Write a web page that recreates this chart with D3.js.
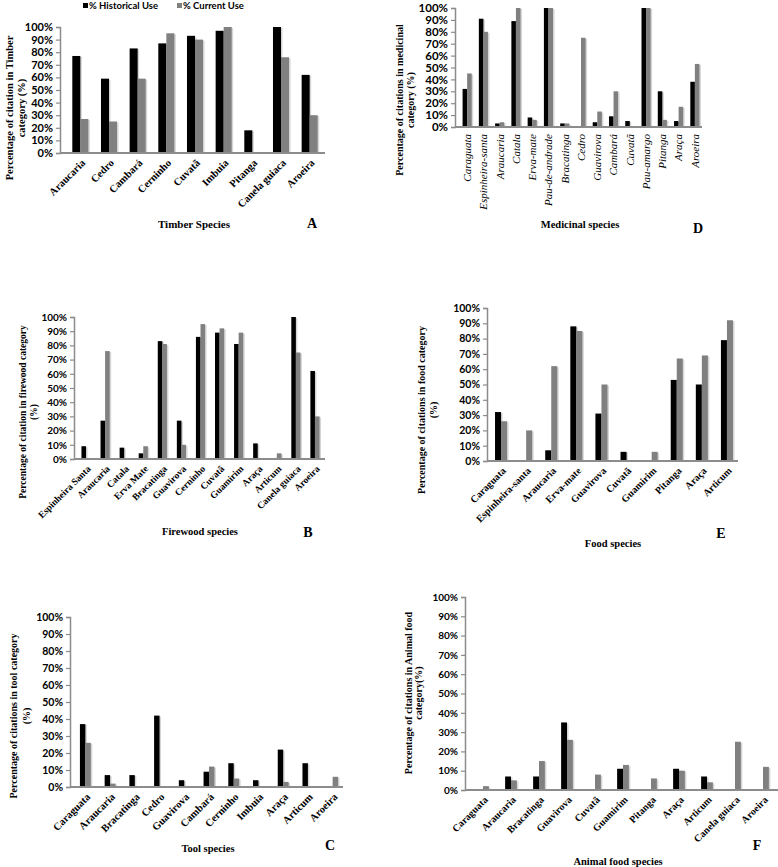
<!DOCTYPE html>
<html>
<head>
<meta charset="utf-8">
<script src="https://cdn.jsdelivr.net/npm/d3@7"></script>
<style>
  body { margin: 0; background: #fff; }
  svg { display: block; }
  .tick text { font-family: Lato, "Open Sans", sans-serif; font-weight: 700; fill: #000; }
  .serif { font-family: "Liberation Serif", "DejaVu Serif", serif; font-weight: 700; fill: #000; }
</style>
</head>
<body>
<div id="chart"></div>
<script>
// series names
var seriesNames = ["% Historical Use", "% Current Use"];

// A - timber
var timberSpecies = ["Araucaria", "Cedro", "Cambará", "Cerninho", "Cuvatã", "Imbuia", "Pitanga", "Canela guiaca", "Aroeira"];
var timberHist = [77, 59, 83, 87, 93, 97, 18, 100, 62];
var timberCurr = [27, 25, 59, 95, 90, 100, 0, 76, 30];

// D - medicinal
var medSpecies = ["Caraguata", "Espinheira-santa", "Araucaria", "Catala", "Erva-mate", "Pau-de-andrade", "Bracatinga", "Cedro",
  "Guavirova", "Cambará", "Cuvatã", "Pau-amargo", "Pitanga", "Araça", "Aroeira"];
var medHist = [32, 91, 3, 89, 8, 100, 3, 0, 4, 9, 5, 100, 30, 5, 38];
var medCurr = [45, 80, 4, 100, 6, 100, 3, 75, 13, 30, 0, 100, 6, 17, 53];

// B - firewood
var fireSpecies = ["Espinheira Santa", "Araucaria", "Catala", "Erva Mate", "Bracatinga", "Guavirova", "Cerninho", "Cuvatã",
  "Guamirim", "Araça", "Articum", "Canela guiaca", "Aroeira"];
var fireHist = [9, 27, 8, 4, 83, 27, 86, 89, 81, 11, 0, 100, 62];
var fireCurr = [0, 76, 0, 9, 81, 10, 95, 92, 89, 0, 4, 75, 30];

// E - food
var foodSpecies = ["Caraguata", "Espinheira-santa", "Araucaria", "Erva-mate", "Guavirova", "Cuvatã", "Guamirim", "Pitanga", "Araça", "Articum"];
var foodHist = [32, 0, 7, 88, 31, 6, 0, 53, 50, 79];
var foodCurr = [26, 20, 62, 85, 50, 0, 6, 67, 69, 92];

// C - tool
var toolSpecies = ["Caraguata", "Araucaria", "Bracatinga", "Cedro", "Guavirova", "Cambará", "Cerninho", "Imbuia", "Araça", "Articum", "Aroeira"];
var toolHist = [37, 7, 7, 42, 4, 9, 14, 4, 22, 14, 0];
var toolCurr = [26, 2, 0, 0, 0, 12, 5, 0, 3, 0, 6];

// F - animal food
var animalSpecies = ["Caraguata", "Araucaria", "Bracatinga", "Guavirova", "Cuvatã", "Guamirim", "Pitanga", "Araça", "Articum", "Canela guiaca", "Aroeira"];
var animalHist = [0, 7, 7, 35, 0, 11, 0, 11, 7, 0, 0];
var animalCurr = [2, 5, 15, 26, 8, 13, 6, 10, 4, 25, 12];

var yTicks = [0, 10, 20, 30, 40, 50, 60, 70, 80, 90, 100];

var colors = ["#000000", "#808080"];

// panel layout
var panels = [
  { letter: "A", cats: timberSpecies, hist: timberHist, curr: timberCurr,
    axisX: 60, xEnd: 325, band: [66, 324], yTop: 27, yBot: 153, barK: 0.28,
    tickFont: 11, catFont: 10.5, catRot: -45, catItalic: false,
    yTitle: ["Percentage of citation in Timber", "category (%)"], yTitleX: 13, yTitleGap: 12, yTitleY: 108, yTitleFont: 10.5,
    xTitle: "Timber Species", xTitleX: 194, xTitleY: 228, xTitleFont: 11, letterX: 312, letterY: 228 },
  { letter: "D", cats: medSpecies, hist: medHist, curr: medCurr,
    axisX: 455, xEnd: 702, band: [459, 703], yTop: 8, yBot: 127, barK: 0.28,
    tickFont: 11.5, catFont: 11, catRot: -90, catItalic: true,
    yTitle: ["Percentage of citations in medicinal", "category (%)"], yTitleX: 403, yTitleGap: 11, yTitleY: 100, yTitleFont: 10,
    xTitle: "Medicinal species", xTitleX: 580, xTitleY: 228, xTitleFont: 10.5, letterX: 698, letterY: 233 },
  { letter: "B", cats: fireSpecies, hist: fireHist, curr: fireCurr,
    axisX: 74, xEnd: 325, band: [76.5, 324.5], yTop: 317, yBot: 459, barK: 0.24,
    tickFont: 10, catFont: 9.5, catRot: -45, catItalic: false,
    yTitle: ["Percentage of citation in firewood category", "(%)"], yTitleX: 26, yTitleGap: 11, yTitleY: 412, yTitleFont: 9.5,
    xTitle: "Firewood species", xTitleX: 200, xTitleY: 535, xTitleFont: 10.5, letterX: 308, letterY: 537 },
  { letter: "E", cats: foodSpecies, hist: foodHist, curr: foodCurr,
    axisX: 487, xEnd: 738, band: [488.5, 739.5], yTop: 308, yBot: 461, barK: 0.24,
    tickFont: 10.5, catFont: 10, catRot: -45, catItalic: false,
    yTitle: ["Percentage of citations in food category", "(%)"], yTitleX: 425, yTitleGap: 12, yTitleY: 410, yTitleFont: 10,
    xTitle: "Food species", xTitleX: 613, xTitleY: 547, xTitleFont: 10.5, letterX: 721, letterY: 538 },
  { letter: "C", cats: toolSpecies, hist: toolHist, curr: toolCurr,
    axisX: 70, xEnd: 343, band: [73, 345], yTop: 617, yBot: 787, barK: 0.22,
    tickFont: 10.5, catFont: 10.5, catRot: -45, catItalic: false,
    yTitle: ["Percentage of citations in tool category", "(%)"], yTitleX: 17, yTitleGap: 13, yTitleY: 716, yTitleFont: 10,
    xTitle: "Tool species", xTitleX: 208, xTitleY: 852, xTitleFont: 10.5, letterX: 330, letterY: 850 },
  { letter: "F", cats: animalSpecies, hist: animalHist, curr: animalCurr,
    axisX: 465, xEnd: 778, band: [469, 777], yTop: 597, yBot: 790, barK: 0.21,
    tickFont: 10, catFont: 10, catRot: -45, catItalic: false,
    yTitle: ["Percentage of citations in Animal food", "category(%)"], yTitleX: 412, yTitleGap: 10, yTitleY: 693, yTitleFont: 10,
    xTitle: "Animal food species", xTitleX: 618, xTitleY: 865, xTitleFont: 10.5, letterX: 757, letterY: 850 }
];

var svg = d3.select("#chart").append("svg")
  .attr("width", 778)
  .attr("height", 867);

// legend at top of panel A
var legend = svg.append("g");
var legendX = [83, 177];
seriesNames.forEach(function(name, i) {
  legend.append("rect")
    .attr("x", legendX[i])
    .attr("y", 3)
    .attr("width", 5)
    .attr("height", 5)
    .attr("fill", colors[i]);
  legend.append("text")
    .attr("x", legendX[i] + 6)
    .attr("y", 9)
    .style("font-family", "Lato, sans-serif")
    .style("font-weight", 700)
    .style("font-size", "9.5px")
    .text(name);
});

function drawPanel(p) {
  var g = svg.append("g");

  var x = d3.scaleBand()
    .domain(p.cats)
    .range(p.band)
    .padding(0);

  var y = d3.scaleLinear()
    .domain([0, 100])
    .range([p.yBot, p.yTop]);

  var bw = x.bandwidth() * p.barK;

  // bars
  var rows = p.cats.map(function(c, i) { return { cat: c, vals: [p.hist[i], p.curr[i]] }; });
  rows.forEach(function(r) {
    var cx = x(r.cat) + x.bandwidth() / 2;
    r.vals.forEach(function(v, k) {
      if (v <= 0) return;
      var bx = cx - bw + k * bw;
      // light shadow
      g.append("rect")
        .attr("x", bx + 1.5)
        .attr("y", y(v) + 1)
        .attr("width", bw)
        .attr("height", p.yBot - y(v) - 1)
        .attr("fill", "#d6d6d6");
      g.append("rect")
        .attr("x", bx)
        .attr("y", y(v))
        .attr("width", bw)
        .attr("height", p.yBot - y(v))
        .attr("fill", colors[k]);
    });
  });

  // y axis
  var yAxis = g.append("g")
    .attr("transform", "translate(" + p.axisX + ",0)")
    .call(d3.axisLeft(y).tickValues(yTicks).tickSize(4).tickPadding(3).tickFormat(function(d) { return d + "%"; }));
  yAxis.select(".domain").attr("stroke", "#8c8c8c").attr("stroke-width", 1.5);
  yAxis.selectAll(".tick line").attr("stroke", "#8c8c8c").attr("stroke-width", 1.2);
  yAxis.selectAll(".tick text").style("font-size", p.tickFont + "px");

  // x axis line
  g.append("line")
    .attr("x1", p.axisX)
    .attr("x2", p.xEnd)
    .attr("y1", p.yBot)
    .attr("y2", p.yBot)
    .attr("stroke", "#8c8c8c")
    .attr("stroke-width", 1.8);

  // category labels
  g.selectAll(".cat")
    .data(p.cats)
    .enter()
    .append("text")
    .attr("class", "serif")
    .attr("transform", function(d) {
      var cx = x(d) + x.bandwidth() / 2;
      if (p.catRot === -90) return "translate(" + cx + "," + (p.yBot + 7) + ") rotate(-90)";
      return "translate(" + (cx + 3) + "," + (p.yBot + 8) + ") rotate(-45)";
    })
    .attr("text-anchor", "end")
    .attr("dy", "0.35em")
    .style("font-size", p.catFont + "px")
    .style("font-style", p.catItalic ? "italic" : "normal")
    .style("font-weight", p.catItalic ? 400 : 700)
    .text(function(d) { return d; });

  // y title
  var yt = g.append("text")
    .attr("class", "serif")
    .attr("transform", "translate(" + p.yTitleX + "," + p.yTitleY + ") rotate(-90)")
    .attr("text-anchor", "middle")
    .style("font-size", p.yTitleFont + "px");
  p.yTitle.forEach(function(line, i) {
    yt.append("tspan")
      .attr("x", 0)
      .attr("y", i * p.yTitleGap)
      .text(line);
  });

  // x title
  g.append("text")
    .attr("class", "serif")
    .attr("x", p.xTitleX)
    .attr("y", p.xTitleY)
    .attr("text-anchor", "middle")
    .style("font-size", p.xTitleFont + "px")
    .text(p.xTitle);

  // panel letter
  g.append("text")
    .attr("class", "serif")
    .attr("x", p.letterX)
    .attr("y", p.letterY)
    .attr("text-anchor", "middle")
    .style("font-size", "14px")
    .text(p.letter);
}

panels.forEach(drawPanel);
</script>
</body>
</html>
